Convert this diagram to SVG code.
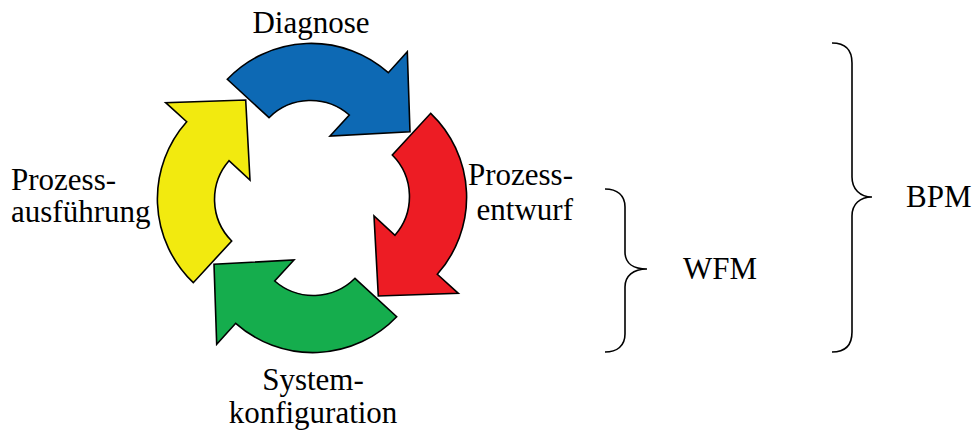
<svg xmlns="http://www.w3.org/2000/svg" xmlns:xlink="http://www.w3.org/1999/xlink" width="975" height="430" viewBox="0 0 975 430">
<style>
  .arrow { stroke: #000; stroke-width: 1.6; stroke-linejoin: miter; }
  .brace { fill: none; stroke: #000; stroke-width: 1.6; }
</style>
<defs>
  <path id="cyc" d="M 227.3 79.3 A 116 116 0 0 1 388.3 72.7 L 407.3 51.7 L 410 131.7 L 330 136 L 349.3 115 A 59 59 0 0 0 269 117.7 Z"/>
</defs>
<g font-family="Liberation Serif, DejaVu Serif, serif" font-size="31" fill="#000">
<g id="diagnose">
  <use xlink:href="#cyc" class="arrow" fill="#0D69B4"/>
  <text x="311" y="33" text-anchor="middle" font-family="Liberation Serif">Diagnose</text>
</g>
<g id="prozessentwurf">
  <use xlink:href="#cyc" class="arrow" fill="#ED1C24" transform="rotate(90 312 198)"/>
  <text x="573" y="185" text-anchor="end" font-family="Liberation Serif">Prozess-</text>
  <text x="573" y="220" text-anchor="end" font-family="Liberation Serif">entwurf</text>
</g>
<g id="systemkonfiguration">
  <use xlink:href="#cyc" class="arrow" fill="#15AD4D" transform="rotate(180 312 198)"/>
  <text x="313" y="390" text-anchor="middle" font-family="Liberation Serif">System-</text>
  <text x="313" y="423" text-anchor="middle" font-family="Liberation Serif">konfiguration</text>
</g>
<g id="prozessausfuehrung">
  <use xlink:href="#cyc" class="arrow" fill="#F2EA0F" transform="rotate(270 312 198)"/>
  <text x="11" y="190" font-family="Liberation Serif">Prozess-</text>
  <text x="11" y="222" font-family="Liberation Serif">ausführung</text>
</g>
<g id="connectors">
  <path class="brace" d="M605,189 C617,189 625,195 625,207 L625,252 C625,263 633,269 647,269 C633,269 625,276 625,287 L625,334 C625,346 617,352 605,352"/>
  <path class="brace" d="M832,43 C845,43 852,50 852,63 L852,177 C852,189 860,197 872,197 C860,197 852,204 852,216 L852,332 C852,345 845,352 832,352"/>
</g>
<g id="wfm">
  <text x="683" y="279" font-family="Liberation Serif">WFM</text>
</g>
<g id="bpm">
  <text x="906" y="207" font-family="Liberation Serif">BPM</text>
</g>
</g>
</svg>
